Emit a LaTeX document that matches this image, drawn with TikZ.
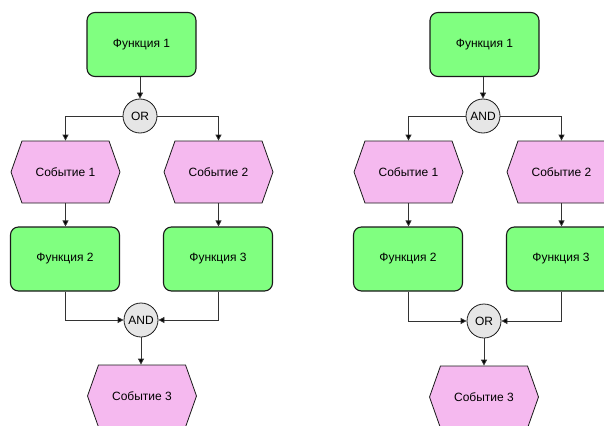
\documentclass[tikz,border=0pt]{standalone}
\usepackage{fontspec}
\setmainfont{Liberation Sans}
\usetikzlibrary{shapes.symbols,arrows.meta}
\definecolor{funcgreen}{HTML}{80FF80}
\definecolor{eventpink}{HTML}{F5B9EF}
\definecolor{gategrey}{HTML}{E6E6E6}
\definecolor{edgedark}{HTML}{1A1A1A}
\definecolor{linegrey}{HTML}{333333}
\tikzset{
  func/.style={rectangle, rounded corners=8pt, draw=edgedark, line width=1.1pt,
    fill=funcgreen, minimum width=109pt, minimum height=64pt, inner sep=0pt},
  event/.style={signal, signal to=east and west, signal pointer angle=141,
    draw=edgedark, line width=0.8pt, fill=eventpink,
    minimum width=109pt, minimum height=62pt, inner sep=0pt},
  gate/.style={circle, draw=edgedark, line width=0.8pt, fill=gategrey,
    minimum size=34pt, inner sep=0pt},
  flow/.style={draw=linegrey, line width=0.8pt,
    -{Triangle[length=6pt,width=6pt,fill=black]}},
}
\begin{document}
\begin{tikzpicture}[x=1pt, y=-1pt, font=\fontsize{12}{14}\selectfont]
\useasboundingbox (0,0) rectangle (604,425);

% left model: OR split, AND join
\node[func]  (lf1) at (141.5,44.5) {Функция 1};
\node[gate]  (lor) at (140,116) {OR};
\node[event] (le1) at (65.5,172) {Событие 1};
\node[event] (le2) at (218.5,172) {Событие 2};
\node[func]  (lf2) at (65,259) {Функция 2};
\node[func]  (lf3) at (218,259) {Функция 3};
\node[gate]  (land) at (141,320) {AND};
\node[event] (le3) at (142,396) {Событие 3};

\draw[flow] (lf1.south -| lor) -- (lor.north);
\draw[flow] (lor.west) -| (le1.north);
\draw[flow] (lor.east) -| (le2.north);
\draw[flow] (le1.south) -- (lf2.north -| le1.south);
\draw[flow] (le2.south) -- (lf3.north -| le2.south);
\draw[flow] (lf2.south -| le1.south) |- (land.west);
\draw[flow] (lf3.south -| le2.south) |- (land.east);
\draw[flow] (land.south) -- (le3.north -| land.south);

% right model: AND split, OR join
\node[func]  (rf1) at (484.5,44.5) {Функция 1};
\node[gate]  (rand) at (483,116) {AND};
\node[event] (re1) at (408.5,172) {Событие 1};
\node[event] (re2) at (561.5,172) {Событие 2};
\node[func]  (rf2) at (408,259) {Функция 2};
\node[func]  (rf3) at (561,259) {Функция 3};
\node[gate]  (ror) at (484,321) {OR};
\node[event] (re3) at (484,397) {Событие 3};

\draw[flow] (rf1.south -| rand) -- (rand.north);
\draw[flow] (rand.west) -| (re1.north);
\draw[flow] (rand.east) -| (re2.north);
\draw[flow] (re1.south) -- (rf2.north -| re1.south);
\draw[flow] (re2.south) -- (rf3.north -| re2.south);
\draw[flow] (rf2.south -| re1.south) |- (ror.west);
\draw[flow] (rf3.south -| re2.south) |- (ror.east);
\draw[flow] (ror.south) -- (re3.north -| ror.south);
\end{tikzpicture}
\end{document}
